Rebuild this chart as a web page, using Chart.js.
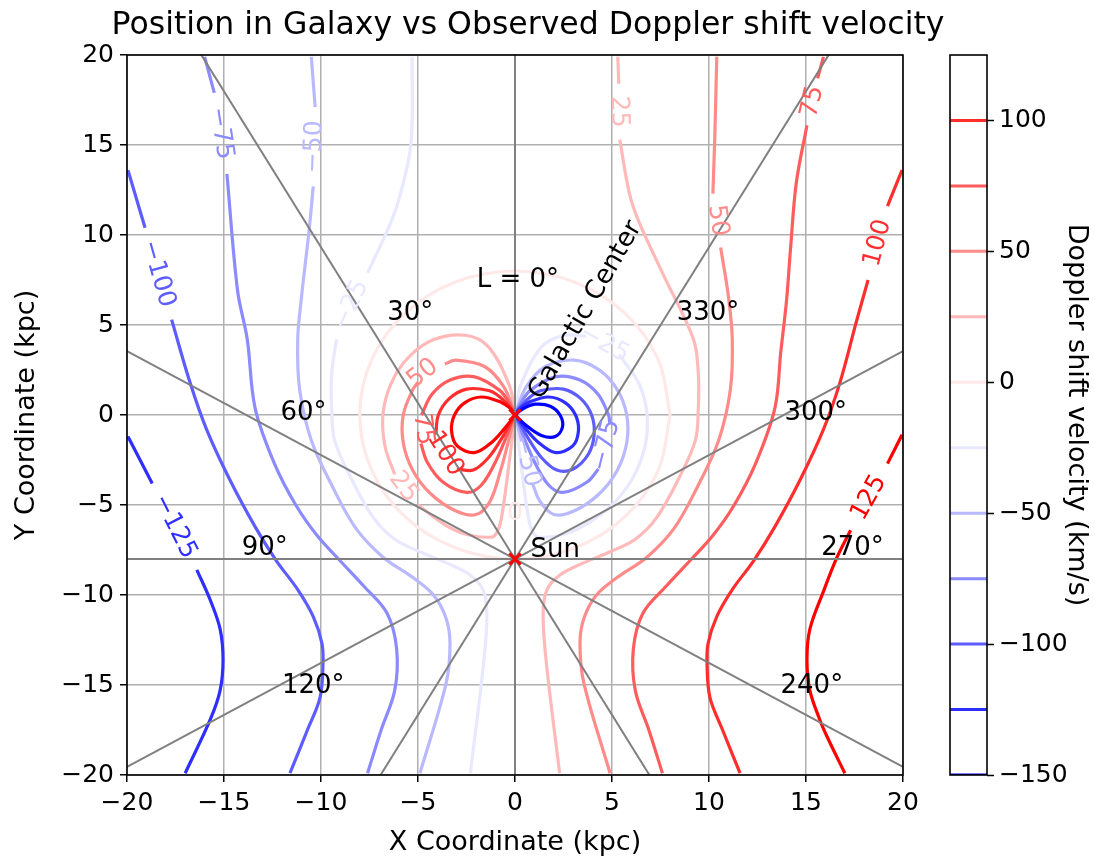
<!DOCTYPE html>
<html>
<head>
<meta charset="utf-8">
<title>Position in Galaxy vs Observed Doppler shift velocity</title>
<script src="https://cdn.jsdelivr.net/npm/chart.js@4.4.1/dist/chart.umd.min.js"></script>
<style>
  body { margin: 0; background: #fff; }
  #wrap { position: relative; width: 1095px; height: 859px; }
  #galaxy { position: absolute; left: 0; top: 0; }
  #cbar { position: absolute; left: 930px; top: 0; }
</style>
</head>
<body>
<div id="wrap">
  <canvas id="galaxy" width="1095" height="859"></canvas>
  <canvas id="cbar" width="165" height="859"></canvas>
</div>
<script>
// ---- data (kpc / km/s) ----
const xTicks = [-20, -15, -10, -5, 0, 5, 10, 15, 20];
const yTicks = [-20, -15, -10, -5, 0, 5, 10, 15, 20];
const levels = [-150, -125, -100, -75, -50, -25, 0, 25, 50, 75, 100, 125];
const cbarTicks = [-150, -100, -50, 0, 50, 100];
const sunPos = [0, -8];
const centerPos = [0, 0];
const sightLongitudes = [0, 30, 60, 90, 120, 150];
const longitudeLabels = ['L = 0°', '30°', '330°', '60°', '300°', '90°', '270°', '120°', '240°'];

// contour pieces, [x, y] points, null = gap left for an inline label
const neg150Lobe = [[0,0],[0.43,0.36],[1.03,0.6],[1.82,0.49],[2.32,0],[2.45,-0.66],[2.08,-1.2],[1.36,-1.14],[0.6,-0.6],[0,0]];
const neg125Lobe = [[0,0],[0.29,0.41],[0.7,0.7],[1.72,1.0],[2.58,0.69],[3.12,0],[3.27,-0.88],[2.98,-1.72],[2.09,-2.09],[1.18,-1.5],[0.5,-0.7],[0,0]];
const neg100Lobe = [[0,0],[0.2,0.36],[0.81,1.03],[1.36,1.36],[2.49,1.44],[3.39,0.91],[3.95,0],[4.08,-1.09],[3.78,-2.18],[3.0,-3.0],[2.15,-3.06],[1.36,-2.36],[0.7,-1.33],[0,0]];
const neg75Lobe = [[0,0],[0.3,0.67],[0.79,1.37],[2.13,2.13],[3.35,1.94],[4.28,1.15],[4.82,0],[4.88,-0.43],null,[4.3,-3.0],[3.72,-3.72],[2.48,-4.3],[1.73,-3.89],[0.98,-2.55],[0,0]];
const neg50Lobe = [[0,0],[0.06,0.22],[0.56,1.54],[1.55,2.68],[3.05,3.05],[4.34,2.51],[5.27,1.41],[5.76,0],[5.76,-1.54],[5.28,-3.05],[4.36,-4.36],[3.07,-5.32],[2.01,-5.53],[1.29,-4.8],[0.9,-3.8],null,[0.34,-1.46],[0,0]];
const neg25Lobe = [[0,0],[0.03,0.25],[0.29,1.65],[1.39,3.81],[2.56,4.43],[3.66,4.37],null,[5.37,3.35],[6.4,1.72],[6.81,0],[6.69,-1.79],[6.07,-3.5],[5.0,-5.0],[3.55,-6.14],[2.42,-6.65],[1.19,-6.78],[0.92,-6.5],[0.71,-5.8],[0.34,-2.98],[0,0]];

const pos125Lobe = [[0,0],[-0.29,0.41],[-0.7,0.7],[-1.72,1.0],[-2.58,0.69],[-3.12,0],[-3.27,-0.88],[-2.98,-1.72],[-2.09,-2.09],[-1.18,-1.5],[-0.5,-0.7],[0,0]];
const pos100Lobe = [[0,0],[-0.2,0.36],[-0.81,1.03],[-1.36,1.36],[-2.49,1.44],[-3.39,0.91],[-3.95,0],[-4.08,-1.09],null,[-3.0,-3.0],[-2.15,-3.06],[-1.36,-2.36],[-0.7,-1.33],[0,0]];
const pos75Lobe = [[0,0],[-0.3,0.67],[-0.79,1.37],[-2.13,2.13],[-3.35,1.94],[-4.28,1.15],[-4.82,0],null,[-4.85,-1.58],[-4.53,-2.61],[-3.72,-3.72],[-2.48,-4.3],[-1.73,-3.89],[-0.98,-2.55],[0,0]];
const pos50Lobe = [[0,0],[-0.06,0.22],[-0.56,1.54],[-1.55,2.68],[-3.05,3.05],[-3.62,2.83],null,[-5.0,1.82],[-5.27,1.41],[-5.76,0],[-5.76,-1.54],[-5.28,-3.05],[-4.36,-4.36],[-3.07,-5.32],[-2.01,-5.53],[-1.29,-4.8],[-0.72,-3.0],[-0.34,-1.46],[0,0]];
const pos25Lobe = [[0,0],[-0.03,0.25],[-0.29,1.65],[-1.39,3.81],[-2.56,4.43],[-4.19,4.19],[-5.51,3.18],[-6.4,1.72],[-6.81,0],[-6.69,-1.79],[-6.2,-3.3],null,[-5.0,-5.0],[-3.55,-6.14],[-2.42,-6.65],[-1.19,-6.78],[-0.92,-6.5],[-0.71,-5.8],[-0.34,-2.98],[0,0]];

const zeroCircle = [[8,0],[7.39,3.06],[5.66,5.66],[3.06,7.39],[0,8],[-3.06,7.39],[-5.66,5.66],[-7.39,3.06],[-8,0],[-7.39,-3.06],[-5.66,-5.66],[-3.06,-7.39],[0,-8],[3.06,-7.39],[5.66,-5.66],[7.39,-3.06],[8,0]];

const neg125Outer = [[-19.95,-1.2],[-18.7,-3.8],null,[-16.4,-8.6],[-15.7,-10.3],[-15.2,-11.9],[-15.05,-13.6],[-15.2,-15.3],[-15.7,-16.9],[-17.0,-19.9]];
const neg100Outer = [[-19.95,13.6],[-19.07,10.4],null,[-17.7,5.3],[-16.75,1.8],[-15.9,-0.8],[-14.7,-3.6],[-13.4,-6.2],[-12.3,-8.1],[-11.2,-9.7],[-10.4,-11.2],[-9.95,-12.7],[-9.9,-13.9],[-10.05,-15.7],[-10.7,-17.5],[-11.6,-19.9]];
const neg75Outer = [[-16.0,19.9],[-15.5,17.9],null,[-14.85,13.4],[-14.3,6.9],[-13.8,4.2],[-13.4,0.4],[-12.4,-2.7],[-11.3,-5.0],[-10.2,-6.7],[-9.1,-8.0],[-7.8,-9.5],[-6.6,-11.0],[-6.1,-13.0],[-6.2,-15.3],[-6.9,-17.5],[-7.6,-19.9]];
const neg50Outer = [[-10.5,19.9],[-10.3,17.1],null,[-10.4,12.7],[-10.6,10.4],[-11.0,6.6],[-11.2,4.2],[-11.1,1.4],[-10.5,-1.4],[-9.4,-4.0],[-8.2,-6.3],[-6.8,-7.9],[-5.3,-9.0],[-4.2,-10.0],[-3.55,-11.3],[-3.35,-12.7],[-3.55,-14.9],[-4.9,-19.9]];
const neg25Outer = [[-5.3,19.9],[-5.36,15.1],[-5.9,12.3],[-6.4,10.7],[-7.6,7.9],null,[-9.2,4.2],[-9.45,2.3],[-9.45,0.4],[-9.3,-1.4],[-8.5,-3.4],[-7.3,-5.7],[-6.2,-6.9],[-4.9,-7.6],[-3.35,-8.3],[-2.3,-8.9],[-1.65,-9.7],[-1.45,-11.0],[-1.6,-13.6],[-2.3,-19.9]];

const pos25Outer = [[5.3,19.9],[5.35,18.4],null,[5.4,15.3],[5.9,12.3],[6.4,10.7],[7.6,7.9],[9.2,4.2],[9.45,2.3],[9.45,0.4],[9.3,-1.4],[8.5,-3.4],[7.3,-5.7],[6.2,-6.9],[4.9,-7.6],[3.35,-8.3],[2.3,-8.9],[1.65,-9.7],[1.45,-11.0],[1.6,-13.6],[2.3,-19.9]];
const pos50Outer = [[10.4,19.9],[10.3,15.5],[10.2,12.3],null,[10.6,9.3],[11.0,6.6],[11.2,4.2],[11.1,1.4],[10.5,-1.4],[9.4,-4.0],[8.2,-6.3],[6.8,-7.9],[5.3,-9.0],[4.2,-10.0],[3.55,-11.3],[3.35,-12.7],[3.55,-14.9],[4.9,-19.9]];
const pos75Outer = [[15.9,19.9],[15.6,18.7],null,[15.05,16.1],[14.5,12.9],[14.2,9.2],[14.0,6.4],[13.7,3.5],[13.4,0.4],[12.4,-2.7],[11.3,-5.0],[10.2,-6.7],[9.1,-8.0],[7.8,-9.5],[6.6,-11.0],[6.1,-13.0],[6.2,-15.3],[6.9,-17.5],[7.6,-19.9]];
const pos100Outer = [[19.95,13.6],[19.2,11.6],null,[18.2,7.5],[17.6,5.2],[16.75,1.8],[15.9,-0.8],[14.7,-3.6],[13.4,-6.2],[12.3,-8.1],[11.2,-9.7],[10.4,-11.2],[9.95,-12.7],[9.9,-13.9],[10.05,-15.7],[10.7,-17.5],[11.6,-19.9]];
const pos125Outer = [[19.95,-1.1],[19.2,-2.7],null,[17.3,-6.4],[16.6,-7.9],[15.9,-9.8],[15.2,-11.9],[15.05,-13.6],[15.2,-15.3],[15.7,-16.9],[16.1,-17.9],[17.0,-19.9]];

const contourPieces = [
  [-150, neg150Lobe], [-125, neg125Lobe], [-100, neg100Lobe], [-75, neg75Lobe], [-50, neg50Lobe], [-25, neg25Lobe],
  [125, pos125Lobe], [100, pos100Lobe], [75, pos75Lobe], [50, pos50Lobe], [25, pos25Lobe],
  [0, zeroCircle],
  [-125, neg125Outer], [-100, neg100Outer], [-75, neg75Outer], [-50, neg50Outer], [-25, neg25Outer],
  [25, pos25Outer], [50, pos50Outer], [75, pos75Outer], [100, pos100Outer], [125, pos125Outer]
];

// inline contour labels: level, position, rotation (deg, clockwise on screen)
const contourLabels = [
  [-125, -17.55, -6.2, 63], [-100, -18.4, 7.85, 74], [-75, -15.17, 15.65, 81],
  [-50, -10.35, 14.9, -88], [-25, -8.45, 6.1, -65],
  [25, 5.35, 16.85, 88], [50, 10.45, 10.8, 82], [75, 15.35, 17.4, -77],
  [100, 18.7, 9.55, -75], [125, 18.25, -4.6, -61],
  [50, -4.75, 2.3, -38], [75, -4.75, -0.8, 82], [100, -3.6, -2.15, 58], [25, -5.75, -4.0, 53],
  [-25, 4.6, 3.95, 29], [-75, 4.7, -1.7, -76], [-50, 0.6, -2.55, 76], [0, 0, -5.45, 0]
];
const longitudeLabelPos = [[0.15, 7.5], [-5.4, 5.67], [9.95, 5.67], [-10.9, 0.1], [15.5, 0.1], [-12.9, -7.4], [17.4, -7.4], [-10.4, -15.05], [15.3, -15.05]];

// ---- styling helpers ----
const FONT = 'DejaVu Sans';
function bwr(v) {
  const t = (v - levels[0]) / (levels[levels.length - 1] - levels[0]);
  let r, g, b;
  if (t < 0.5) { r = g = Math.round(510 * t); b = 255; }
  else { r = 255; g = b = Math.round(510 * (1 - t)); }
  return `rgb(${r},${g},${b})`;
}
const minus = v => String(v).replace('-', '\u2212');
const toXY = p => p ? { x: p[0], y: p[1] } : { x: null, y: null };

// contour datasets
const contourSets = contourPieces.map(([lv, pts]) => ({
  data: pts.map(toXY),
  borderColor: bwr(lv),
  borderWidth: 3.2,
  showLine: true,
  pointRadius: 0,
  tension: 0.35,
  spanGaps: false,
  order: 3
}));

// lines of sight through the Sun
const sightSets = sightLongitudes.map(l => {
  const a = l * Math.PI / 180, dx = -Math.sin(a), dy = Math.cos(a);
  return {
    data: [{ x: sunPos[0] - 40 * dx, y: sunPos[1] - 40 * dy }, { x: sunPos[0] + 40 * dx, y: sunPos[1] + 40 * dy }],
    borderColor: '#808080', borderWidth: 2, showLine: true, pointRadius: 0, tension: 0, order: 2
  };
});

const markerSet = {
  data: [toXY(sunPos), toXY(centerPos)],
  pointStyle: 'crossRot', pointRadius: 8, pointBorderWidth: 3,
  pointBorderColor: '#ff0000', pointBackgroundColor: '#ff0000', showLine: false, order: 1
};

const galaxyText = {
  id: 'galaxyText',
  afterDatasetsDraw(chart) {
    const { ctx, scales: { x, y } } = chart;
    ctx.save();
    // contour labels
    ctx.font = `25px '${FONT}'`;
    ctx.textAlign = 'center';
    ctx.textBaseline = 'middle';
    contourLabels.forEach(([lv, lx, ly, rot]) => {
      ctx.save();
      ctx.translate(x.getPixelForValue(lx), y.getPixelForValue(ly));
      ctx.rotate(rot * Math.PI / 180);
      ctx.fillStyle = bwr(lv);
      ctx.fillText(minus(lv), 0, 0);
      ctx.restore();
    });
    // longitude labels
    ctx.font = `26px '${FONT}'`;
    ctx.fillStyle = '#000';
    longitudeLabels.forEach((t, i) => {
      ctx.fillText(t, x.getPixelForValue(longitudeLabelPos[i][0]), y.getPixelForValue(longitudeLabelPos[i][1]));
    });
    ctx.textAlign = 'left';
    ctx.textBaseline = 'alphabetic';
    ctx.fillText('Sun', x.getPixelForValue(0.8), y.getPixelForValue(-7.9));
    ctx.save();
    ctx.translate(x.getPixelForValue(1.35), y.getPixelForValue(0.8));
    ctx.rotate(-60 * Math.PI / 180);
    ctx.fillText('Galactic Center', 0, 0);
    ctx.restore();
    ctx.restore();
  },
  afterDraw(chart) {
    const { ctx, chartArea: a } = chart;
    ctx.save();
    ctx.strokeStyle = '#000';
    ctx.lineWidth = 1.6;
    ctx.strokeRect(a.left, a.top, a.right - a.left, a.bottom - a.top);
    ctx.fillStyle = '#000';
    ctx.textAlign = 'center';
    ctx.textBaseline = 'middle';
    ctx.font = `31.5px '${FONT}'`;
    ctx.fillText('Position in Galaxy vs Observed Doppler shift velocity', (a.left + a.right) / 2 + 13, 26);
    ctx.font = `27px '${FONT}'`;
    ctx.fillText('X Coordinate (kpc)', (a.left + a.right) / 2, 843);
    ctx.translate(27, (a.top + a.bottom) / 2);
    ctx.rotate(-Math.PI / 2);
    ctx.fillText('Y Coordinate (kpc)', 0, 0);
    ctx.restore();
  }
};

const axisCommon = (ticks) => ({
  type: 'linear',
  min: ticks[0],
  max: ticks[ticks.length - 1],
  afterBuildTicks: s => { s.ticks = ticks.map(v => ({ value: v })); },
  ticks: { color: '#000', font: { family: FONT, size: 25 }, padding: 6, callback: v => minus(v) },
  grid: { color: '#b0b0b0', lineWidth: 1.5, tickColor: '#000', tickLength: 7, tickWidth: 1.5 },
  border: { display: false }
});

new Chart(document.getElementById('galaxy'), {
  type: 'scatter',
  data: { datasets: [...contourSets, ...sightSets, markerSet] },
  options: {
    responsive: false,
    animation: false,
    layout: { padding: { left: 0, right: 192, top: 55, bottom: 0 } },
    plugins: { legend: { display: false }, tooltip: { enabled: false } },
    scales: {
      x: { ...axisCommon(xTicks), afterFit: s => { s.height = 84; } },
      y: { ...axisCommon(yTicks), afterFit: s => { s.width = 127; } }
    }
  },
  plugins: [galaxyText]
});

// ---- colorbar ----
const cbarText = {
  id: 'cbarText',
  afterDraw(chart) {
    const { ctx, chartArea: a } = chart;
    ctx.save();
    ctx.strokeStyle = '#000';
    ctx.lineWidth = 1.6;
    ctx.strokeRect(a.left, a.top, a.right - a.left, a.bottom - a.top);
    ctx.fillStyle = '#000';
    ctx.font = `27px '${FONT}'`;
    ctx.textAlign = 'center';
    ctx.textBaseline = 'middle';
    ctx.translate(146, (a.top + a.bottom) / 2);
    ctx.rotate(Math.PI / 2);
    ctx.fillText('Doppler shift velocity (km/s)', 0, 0);
    ctx.restore();
  }
};

new Chart(document.getElementById('cbar'), {
  type: 'scatter',
  data: {
    datasets: levels.filter(lv => lv < levels[levels.length - 1]).map(lv => ({
      data: [{ x: 0, y: lv }, { x: 1, y: lv }],
      borderColor: bwr(lv), borderWidth: 3, showLine: true, pointRadius: 0
    }))
  },
  options: {
    responsive: false,
    animation: false,
    layout: { padding: { left: 20, right: 0, top: 55, bottom: 84 } },
    plugins: { legend: { display: false }, tooltip: { enabled: false } },
    scales: {
      x: { type: 'linear', min: 0, max: 1, display: false },
      y: {
        type: 'linear', position: 'right', min: levels[0], max: levels[levels.length - 1],
        afterBuildTicks: s => { s.ticks = cbarTicks.map(v => ({ value: v })); },
        afterFit: s => { s.width = 108; },
        ticks: { color: '#000', font: { family: FONT, size: 25 }, padding: 5, callback: v => minus(v) },
        grid: { drawOnChartArea: false, tickColor: '#000', tickLength: 7, tickWidth: 1.5 },
        border: { display: false }
      }
    }
  },
  plugins: [cbarText]
});
</script>
</body>
</html>
